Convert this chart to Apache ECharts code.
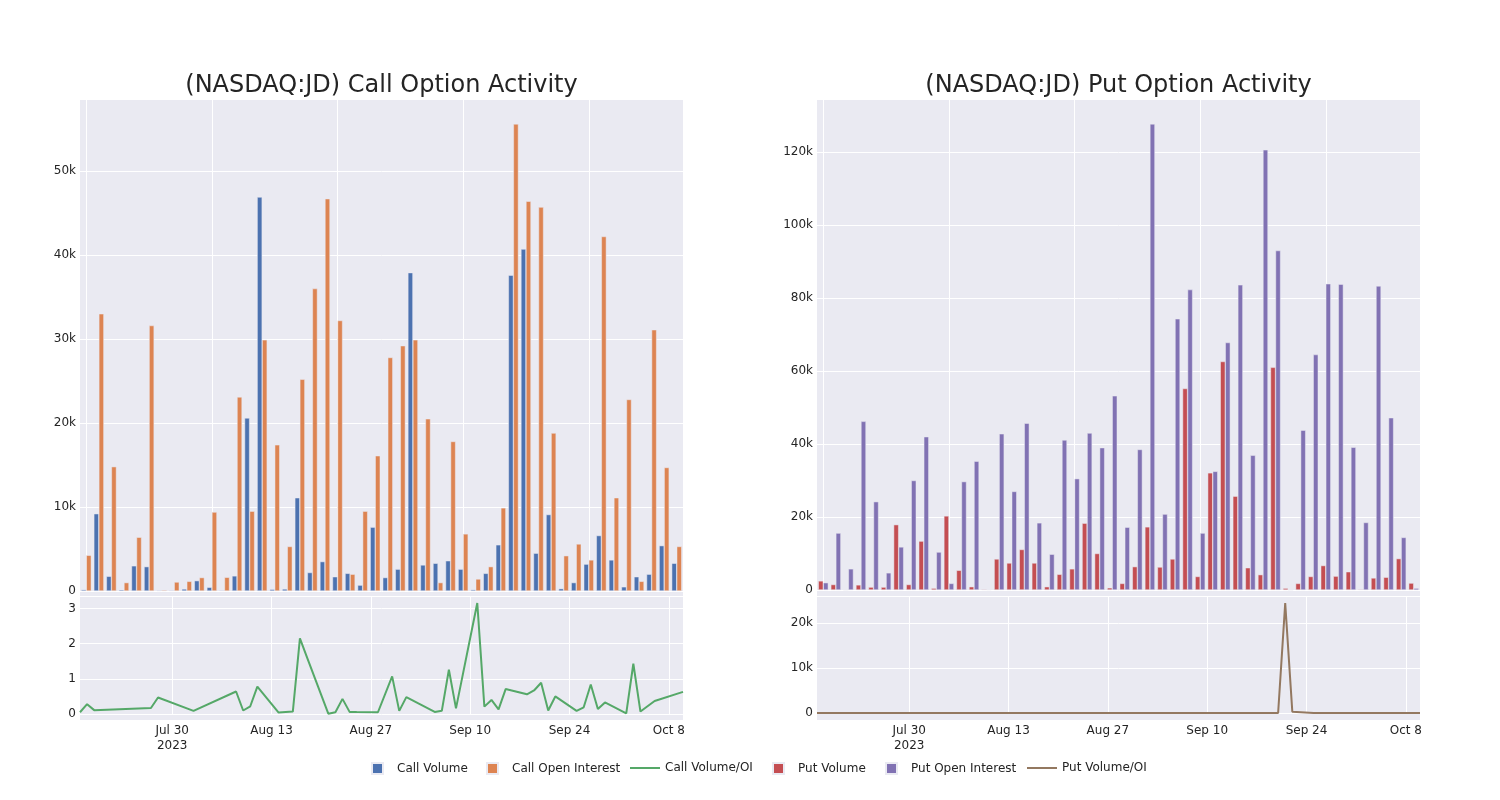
<!DOCTYPE html>
<html>
<head>
<meta charset="utf-8">
<script src="https://cdn.jsdelivr.net/npm/echarts@6/dist/echarts.min.js"></script>
<style>
html, body { margin: 0; padding: 0; background: #ffffff; }
#chart { width: 1500px; height: 800px; }
</style>
</head>
<body>
<div id="chart"></div>
<script>
// ---------- data ----------
const dates = [
  '2023-07-17','2023-07-18','2023-07-19','2023-07-27','2023-07-28','2023-08-02','2023-08-08','2023-08-09','2023-08-10','2023-08-11',
  '2023-08-14','2023-08-15','2023-08-16','2023-08-17','2023-08-18','2023-08-21','2023-08-22','2023-08-23','2023-08-24','2023-08-25',
  '2023-08-28','2023-08-30','2023-08-31','2023-09-01','2023-09-05','2023-09-06','2023-09-07','2023-09-08','2023-09-11','2023-09-12',
  '2023-09-13','2023-09-14','2023-09-15','2023-09-18','2023-09-19','2023-09-20','2023-09-21','2023-09-22','2023-09-25','2023-09-26',
  '2023-09-27','2023-09-28','2023-09-29','2023-10-02','2023-10-03','2023-10-04','2023-10-06','2023-10-10'
];
const callVolume = [
  160, 9200, 1750, 150, 3000, 2900, 80, 80, 240, 1230,
  440, 80, 1800, 20600, 46900, 200, 240, 11100, 2200, 3500,
  1700, 2100, 700, 7600, 1600, 2600, 37900, 3100, 3300, 3600,
  2600, 160, 2100, 5500, 37600, 40700, 4500, 9100, 280, 1000,
  3200, 6600, 3700, 500, 1700, 2000, 5400, 3300
];
const callOpenInterest = [
  4250, 33000, 14800, 1000, 6400, 31600, 120, 1070, 1150, 1600,
  9400, 1630, 23100, 9500, 29900, 17400, 5300, 25200, 36000, 46700,
  32200, 2000, 9500, 16100, 27800, 29200, 29900, 20500, 1000, 17800,
  6800, 1430, 2900, 9900, 55600, 46400, 45700, 18800, 4200, 5600,
  3700, 42200, 11100, 22800, 1150, 31100, 14700, 5300
];
const callVolumeOI = [
  0.05, 0.28, 0.11, 0.17, 0.47, 0.09, 0.64, 0.10, 0.22, 0.78,
  0.04, 0.055, 0.07, 2.15, 1.61, 0.01, 0.05, 0.43, 0.06, 0.055,
  0.05, 1.07, 0.09, 0.48, 0.06, 0.09, 1.26, 0.16, 3.16, 0.21,
  0.40, 0.13, 0.71, 0.56, 0.67, 0.89, 0.10, 0.50, 0.09, 0.19,
  0.84, 0.14, 0.33, 0.02, 1.43, 0.07, 0.37, 0.63
];
const putVolume = [
  2500, 1500, 0, 1400, 800, 800, 17900, 1500, 13400, 500,
  20300, 5400, 900, 200, 8500, 7400, 11100, 7400, 900, 4300,
  5800, 18300, 10000, 600, 1800, 6400, 17300, 6300, 8500, 55200,
  3700, 32100, 62600, 25700, 6100, 4200, 61000, 500, 1800, 3700,
  6700, 3800, 5000, 200, 3300, 3500, 8600, 1900
];
const putOpenInterest = [
  2000, 15600, 5800, 46200, 24200, 4700, 11800, 30000, 42000, 10400,
  1800, 29700, 35300, 100, 42800, 27000, 45700, 18400, 9800, 41100,
  30500, 43000, 39000, 53200, 17200, 38500, 127700, 20800, 74300, 82300,
  15600, 32500, 67800, 83600, 36900, 120600, 93000, 0, 43800, 64500,
  83900, 83800, 39100, 18500, 83300, 47200, 14400, 500
];
const putVolumeOI = [
  0, 0, 0, 0, 0, 0, 0, 0, 0, 0,
  0, 0, 0, 0, 0, 0, 0, 0, 0, 0,
  0, 0, 0, 0, 0, 0, 0, 0, 0, 0,
  0, 0, 0, 0, 0, 0, 24500, 300, 0, 0,
  0, 0, 0, 0, 0, 0, 0, 0
];
const timeTickDates = ['2023-07-30','2023-08-13','2023-08-27','2023-09-10','2023-09-24','2023-10-08'];
const timeTickLabels = ['Jul 30\n2023','Aug 13','Aug 27','Sep 10','Sep 24','Oct 8'];
const titles = ['(NASDAQ:JD) Call Option Activity', '(NASDAQ:JD) Put Option Activity'];
const seriesNames = ['Call Volume','Call Open Interest','Call Volume/OI','Put Volume','Put Open Interest','Put Volume/OI'];

// ---------- styling ----------
const FONT = 'DejaVu Sans';
const TEXT = '#242424';
const BG = '#EAEAF2';
const COLORS = ['#4C72B0','#DD8452','#55A868','#C44E52','#8172B3','#937860'];

// calendar days spanning the data (time axis of the ratio panels)
const calendarDays = [];
(function () {
  const s = new Date(dates[0] + 'T00:00:00Z').getTime();
  const e = new Date(dates[dates.length - 1] + 'T00:00:00Z').getTime();
  for (let t = s; t <= e; t += 86400000) calendarDays.push(new Date(t).toISOString().slice(0, 10));
})();
const onCalendar = arr => calendarDays.map(d => { const i = dates.indexOf(d); return i < 0 ? null : arr[i]; });
const isTimeTick = (idx, val) => timeTickDates.indexOf(val) >= 0;
const timeLabel = val => { const i = timeTickDates.indexOf(val); return i < 0 ? '' : timeTickLabels[i]; };
const kfmt = v => v === 0 ? '0' : (v / 1000) + 'k';

const whiteLine = { color: '#ffffff', width: 1 };
const labelStyle = { fontFamily: FONT, fontSize: 12, color: TEXT };

function catAxis(gi) {
  return {
    gridIndex: gi, type: 'category', data: dates,
    axisLabel: { show: false }, axisTick: { show: false }, axisLine: { show: false },
    splitLine: { show: true, alignWithLabel: true, interval: (i) => i % 10 === 0, lineStyle: whiteLine }
  };
}
function timeAxis(gi, margin) {
  return {
    gridIndex: gi, type: 'category', data: calendarDays, boundaryGap: false,
    axisLabel: Object.assign({ interval: isTimeTick, formatter: timeLabel, margin: margin, lineHeight: 15 }, labelStyle),
    axisTick: { show: false }, axisLine: { show: false },
    splitLine: { show: true, interval: isTimeTick, lineStyle: whiteLine }
  };
}
function valAxis(gi, max, interval, fmt) {
  return {
    gridIndex: gi, type: 'value', min: 0, max: max, interval: interval,
    axisLabel: Object.assign({ formatter: fmt, margin: 4, showMaxLabel: false }, labelStyle),
    axisTick: { show: false }, axisLine: { show: false },
    splitLine: { show: true, showMaxLine: false, lineStyle: whiteLine }
  };
}
function barSeries(name, data, color, axisIndex) {
  return {
    name: name, type: 'bar', xAxisIndex: axisIndex, yAxisIndex: axisIndex, data: data,
    barGap: '0%', barCategoryGap: '20%',
    itemStyle: { color: color, borderColor: BG, borderWidth: 0.5 }
  };
}
function lineSeries(name, data, color, axisIndex) {
  return {
    name: name, type: 'line', xAxisIndex: axisIndex, yAxisIndex: axisIndex, data: data,
    connectNulls: true, showSymbol: false, symbol: 'none',
    itemStyle: { color: color }, lineStyle: { color: color, width: 2 }
  };
}
// one legend entry per component so each sits where the reference puts it
function legendItem(name, left, isLine) {
  return isLine
    ? { data: [name], left: left, top: 762, padding: 0, icon: 'rect', itemWidth: 30, itemHeight: 2,
        textStyle: labelStyle }
    : { data: [name], left: left, top: 762, padding: 0, icon: 'rect', itemWidth: 11, itemHeight: 11,
        textStyle: Object.assign({ padding: [0, 0, 0, 9] }, labelStyle) };
}

const chart = echarts.init(document.getElementById('chart'), null, { renderer: 'canvas' });
chart.setOption({
  animation: false,
  backgroundColor: '#ffffff',
  title: [
    { text: titles[0], left: 381.5, top: 74, textAlign: 'center', padding: 0,
      textStyle: { fontFamily: FONT, fontSize: 24, fontWeight: 'normal', color: TEXT } },
    { text: titles[1], left: 1118.5, top: 74, textAlign: 'center', padding: 0,
      textStyle: { fontFamily: FONT, fontSize: 24, fontWeight: 'normal', color: TEXT } }
  ],
  graphic: {
    elements: [
      { type: 'rect', z: -10, silent: true, shape: { x: 80, y: 100, width: 603, height: 496 }, style: { fill: BG } },
      { type: 'rect', z: -10, silent: true, shape: { x: 80, y: 597, width: 603, height: 123 }, style: { fill: BG } },
      { type: 'rect', z: -10, silent: true, shape: { x: 817, y: 100, width: 603, height: 496 }, style: { fill: BG } },
      { type: 'rect', z: -10, silent: true, shape: { x: 817, y: 597, width: 603, height: 123 }, style: { fill: BG } }
    ]
  },
  legend: [
    legendItem(seriesNames[0], 371, false),
    legendItem(seriesNames[1], 486, false),
    legendItem(seriesNames[2], 630, true),
    legendItem(seriesNames[3], 772, false),
    legendItem(seriesNames[4], 885, false),
    legendItem(seriesNames[5], 1027, true)
  ],
  grid: [
    { left: 80, top: 100, width: 603, height: 491 },
    { left: 80, top: 597, width: 603, height: 117 },
    { left: 817, top: 100, width: 603, height: 490 },
    { left: 817, top: 597, width: 603, height: 116 }
  ],
  xAxis: [catAxis(0), timeAxis(1, 9), catAxis(2), timeAxis(3, 10)],
  yAxis: [
    valAxis(0, 58450, 10000, kfmt),
    valAxis(1, 3.33, 1, v => String(v)),
    valAxis(2, 134250, 20000, kfmt),
    valAxis(3, 25860, 10000, kfmt)
  ],
  series: [
    barSeries(seriesNames[0], callVolume, COLORS[0], 0),
    barSeries(seriesNames[1], callOpenInterest, COLORS[1], 0),
    lineSeries(seriesNames[2], onCalendar(callVolumeOI), COLORS[2], 1),
    barSeries(seriesNames[3], putVolume, COLORS[3], 2),
    barSeries(seriesNames[4], putOpenInterest, COLORS[4], 2),
    lineSeries(seriesNames[5], onCalendar(putVolumeOI), COLORS[5], 3)
  ]
});
</script>
</body>
</html>
